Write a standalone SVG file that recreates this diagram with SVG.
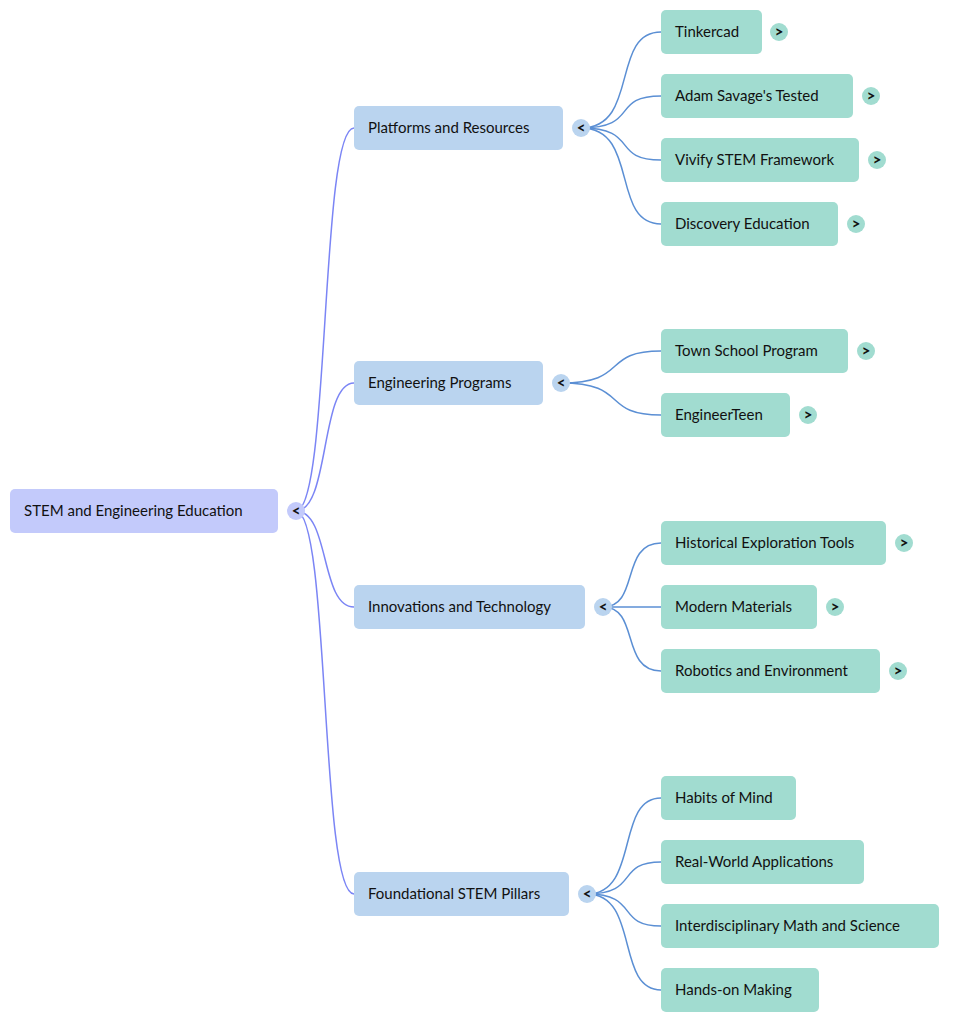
<svg xmlns="http://www.w3.org/2000/svg" width="977" height="1023" viewBox="0 0 977 1023">
<style>
text{font-family:Lato,"Open Sans",sans-serif;font-size:15px;fill:#111;dominant-baseline:central}
rect,circle{rx:5px}
.r{fill:#c3cafb}.a{fill:#bad4ef}.b{fill:#a1dcd0}
.t{font-weight:900;font-size:15px;text-anchor:middle}
.c0{fill:none;stroke:#7b85f5;stroke-width:1.5}
.c1{fill:none;stroke:#5b8fd4;stroke-width:1.5}
</style>
<rect width="977" height="1023" fill="#fff" rx="0"/>
<g id="connectors">
<path class="c0" d="M296 511C330 511 320 128 354 128"/>
<path class="c0" d="M296 511C330 511 320 383 354 383"/>
<path class="c0" d="M296 511C330 511 320 607 354 607"/>
<path class="c0" d="M296 511C330 511 320 894 354 894"/>
<path class="c1" d="M581 128C640 128 610 32 661 32"/>
<path class="c1" d="M581 128C640 128 610 96 661 96"/>
<path class="c1" d="M581 128C640 128 610 160 661 160"/>
<path class="c1" d="M581 128C640 128 610 224 661 224"/>
<path class="c1" d="M561 383C630 383 600 351 661 351"/>
<path class="c1" d="M561 383C630 383 600 415 661 415"/>
<path class="c1" d="M603 607C640 607 620 543 661 543"/>
<path class="c1" d="M603 607L661 607"/>
<path class="c1" d="M603 607C640 607 620 671 661 671"/>
<path class="c1" d="M587 894C640 894 615 798 661 798"/>
<path class="c1" d="M587 894C640 894 615 862 661 862"/>
<path class="c1" d="M587 894C640 894 615 926 661 926"/>
<path class="c1" d="M587 894C640 894 615 990 661 990"/>
</g>
<g id="root"><rect class="r" x="10" y="489" width="268" height="44"/><text x="24" y="510">STEM and Engineering Education</text><circle class="r" cx="296" cy="511" r="9"/><text class="t" x="296" y="510">&lt;</text></g>
<g id="n1"><rect class="a" x="354" y="106" width="209" height="44"/><text x="368" y="127">Platforms and Resources</text><circle class="a" cx="581" cy="128" r="9"/><text class="t" x="581" y="127">&lt;</text></g>
<g id="n2"><rect class="a" x="354" y="361" width="189" height="44"/><text x="368" y="382">Engineering Programs</text><circle class="a" cx="561" cy="383" r="9"/><text class="t" x="561" y="382">&lt;</text></g>
<g id="n3"><rect class="a" x="354" y="585" width="231" height="44"/><text x="368" y="606">Innovations and Technology</text><circle class="a" cx="603" cy="607" r="9"/><text class="t" x="603" y="606">&lt;</text></g>
<g id="n4"><rect class="a" x="354" y="872" width="215" height="44"/><text x="368" y="893">Foundational STEM Pillars</text><circle class="a" cx="587" cy="894" r="9"/><text class="t" x="587" y="893">&lt;</text></g>
<g id="l1"><rect class="b" x="661" y="10" width="101" height="44"/><text x="675" y="31">Tinkercad</text><circle class="b" cx="779" cy="32" r="9"/><text class="t" x="779" y="31">&gt;</text></g>
<g id="l2"><rect class="b" x="661" y="74" width="192" height="44"/><text x="675" y="95">Adam Savage's Tested</text><circle class="b" cx="871" cy="96" r="9"/><text class="t" x="871" y="95">&gt;</text></g>
<g id="l3"><rect class="b" x="661" y="138" width="198" height="44"/><text x="675" y="159">Vivify STEM Framework</text><circle class="b" cx="877" cy="160" r="9"/><text class="t" x="877" y="159">&gt;</text></g>
<g id="l4"><rect class="b" x="661" y="202" width="177" height="44"/><text x="675" y="223">Discovery Education</text><circle class="b" cx="856" cy="224" r="9"/><text class="t" x="856" y="223">&gt;</text></g>
<g id="l5"><rect class="b" x="661" y="329" width="187" height="44"/><text x="675" y="350">Town School Program</text><circle class="b" cx="866" cy="351" r="9"/><text class="t" x="866" y="350">&gt;</text></g>
<g id="l6"><rect class="b" x="661" y="393" width="129" height="44"/><text x="675" y="414">EngineerTeen</text><circle class="b" cx="808" cy="415" r="9"/><text class="t" x="808" y="414">&gt;</text></g>
<g id="l7"><rect class="b" x="661" y="521" width="225" height="44"/><text x="675" y="542">Historical Exploration Tools</text><circle class="b" cx="904" cy="543" r="9"/><text class="t" x="904" y="542">&gt;</text></g>
<g id="l8"><rect class="b" x="661" y="585" width="156" height="44"/><text x="675" y="606">Modern Materials</text><circle class="b" cx="835" cy="607" r="9"/><text class="t" x="835" y="606">&gt;</text></g>
<g id="l9"><rect class="b" x="661" y="649" width="219" height="44"/><text x="675" y="670">Robotics and Environment</text><circle class="b" cx="898" cy="671" r="9"/><text class="t" x="898" y="670">&gt;</text></g>
<g id="l10"><rect class="b" x="661" y="776" width="135" height="44"/><text x="675" y="797">Habits of Mind</text></g>
<g id="l11"><rect class="b" x="661" y="840" width="203" height="44"/><text x="675" y="861">Real-World Applications</text></g>
<g id="l12"><rect class="b" x="661" y="904" width="278" height="44"/><text x="675" y="925">Interdisciplinary Math and Science</text></g>
<g id="l13"><rect class="b" x="661" y="968" width="158" height="44"/><text x="675" y="989">Hands-on Making</text></g>
</svg>
